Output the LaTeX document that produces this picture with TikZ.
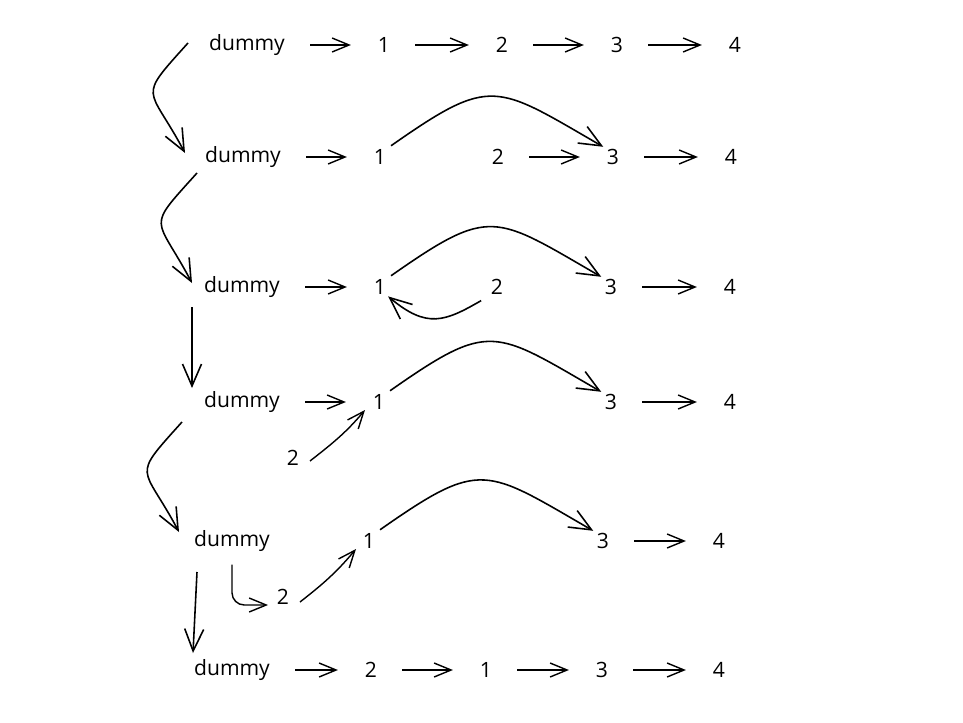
\documentclass[tikz,border=0pt]{standalone}
\usepackage{fontspec}
\setmainfont{Open Sans}
\usetikzlibrary{arrows.meta,positioning}
\begin{document}
\begin{tikzpicture}[x=0.02cm,y=0.02cm,>={Straight Barb[length=3.4mm,width=2.8mm]},line width=0.8pt]
      \tikzset{lbl/.style={inner sep=0pt,font=\fontsize{12}{14}\selectfont},
        harr/.style={->,shorten <=14pt,shorten >=15pt},
        jump/.style={-{Straight Barb[length=4.4mm,width=3.8mm]},line width=0.9pt},
        hop/.style={->,line width=0.8pt}}
      \useasboundingbox (0,0) rectangle (963,-723);
      % rows, top to bottom
      \node[lbl] (d1) at (247,-45) {dummy};\node[lbl] (r1n1) at (384,-45) {1};\node[lbl] (r1n2) at (502,-45) {2};\node[lbl] (r1n3) at (617,-45) {3};\node[lbl] (r1n4) at (735,-45) {4};
      \node[lbl] (d2) at (243,-157) {dummy};\node[lbl] (r2n1) at (380,-157) {1};\node[lbl] (r2n2) at (498,-157) {2};\node[lbl] (r2n3) at (613,-157) {3};\node[lbl] (r2n4) at (731,-157) {4};
      \node[lbl] (d3) at (242,-287) {dummy};\node[lbl] (r3n1) at (380,-287) {1};\node[lbl] (r3n2) at (497,-287) {2};\node[lbl] (r3n3) at (611,-287) {3};\node[lbl] (r3n4) at (730,-287) {4};
      \node[lbl] (d4) at (242,-402) {dummy};\node[lbl] (r4n1) at (379,-402) {1};\node[lbl] (r4n2) at (293,-458) {2};\node[lbl] (r4n3) at (611,-402) {3};\node[lbl] (r4n4) at (730,-402) {4};
      \node[lbl] (d5) at (232,-541) {dummy};\node[lbl] (r5n1) at (369,-541) {1};\node[lbl] (r5n2) at (283,-597) {2};\node[lbl] (r5n3) at (603,-541) {3};\node[lbl] (r5n4) at (719,-541) {4};
      \node[lbl] (d6) at (232,-670) {dummy};\node[lbl] (r6n2) at (371,-670) {2};\node[lbl] (r6n1) at (486,-670) {1};\node[lbl] (r6n3) at (602,-670) {3};\node[lbl] (r6n4) at (719,-670) {4};
      \foreach \a/\b in {d1/r1n1,r1n1/r1n2,r1n2/r1n3,r1n3/r1n4,d2/r2n1,r2n2/r2n3,r2n3/r2n4,d3/r3n1,r3n3/r3n4,d4/r4n1,r4n3/r4n4,r5n3/r5n4,d6/r6n2,r6n2/r6n1,r6n1/r6n3,r6n3/r6n4}{\draw[harr] (\a.east)--(\b.west);}
      % 1 jumps over 2
      \foreach \r in {2,3,4,5}{\draw[jump,shorten <=3pt,shorten >=2pt] (r\r n1.north east) to[out=35,in=150,looseness=1.5] (r\r n3.north west);}
      \draw[jump,shorten <=6pt,shorten >=1pt] (r3n2.south west) to[out=210,in=-40,looseness=1.3] (r3n1.south east);
      \draw[hop] ([shift={(17,-3)}]r4n2.center) to[out=38,in=-130] ([shift={(-14,-8)}]r4n1.center);
      \draw[hop] ([shift={(17,-5)}]r5n2.center) to[out=38,in=-130] ([shift={(-13,-8)}]r5n1.center);
      \draw[hop,rounded corners=7pt,shorten <=7pt] (d5.south) |- ([shift={(-15,-8)}]r5n2.center);
      % left column
      \draw[jump] ([shift={(-59,2)}]d1.center) to[out=228,in=118,looseness=1.8] ([shift={(-58,4)}]d2.center);
      \draw[jump] ([shift={(-46,-16)}]d2.center) to[out=228,in=118,looseness=1.8] ([shift={(-50,4)}]d3.center);
      \draw[jump] ([shift={(-50,-20)}]d3.center) -- ([shift={(-50,14)}]d4.center);
      \draw[jump] ([shift={(-60,-20)}]d4.center) to[out=228,in=118,looseness=1.8] ([shift={(-53,9)}]d5.center);
      \draw[jump] ([shift={(-35,-31)}]d5.center) -- ([shift={(-39,17)}]d6.center);
    \end{tikzpicture}
\end{document}
